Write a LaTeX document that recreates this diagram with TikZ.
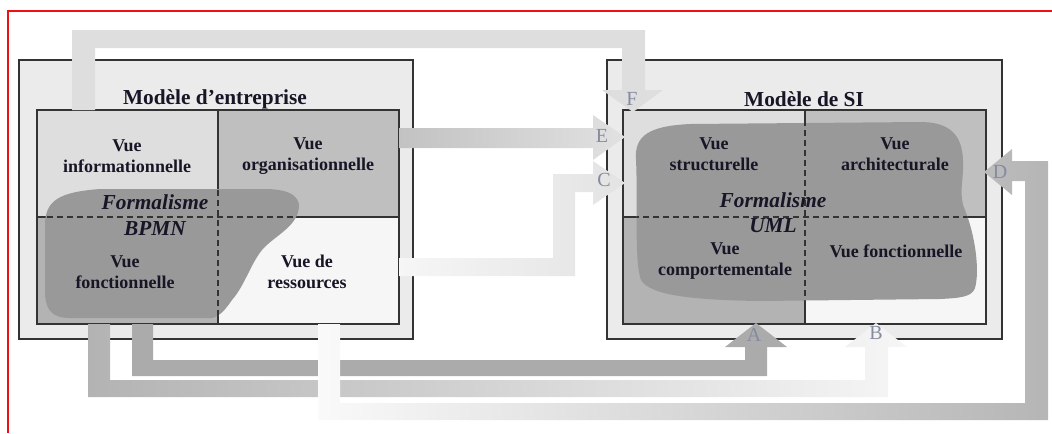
\documentclass[tikz,border=0pt]{standalone}
\usepackage{fontspec}
\setmainfont{Liberation Serif}
\usepackage{xcolor}
\definecolor{OuterGray}{HTML}{EBEBEB}
\definecolor{QuadLight}{HTML}{DEDEDE}
\definecolor{QuadMid}{HTML}{BFBFBF}
\definecolor{QuadLow}{HTML}{B3B3B3}
\definecolor{QuadPale}{HTML}{F6F6F6}
\definecolor{BlobGray}{HTML}{999999}
\definecolor{BorderGray}{HTML}{333333}
\definecolor{InkColor}{HTML}{161626}
\definecolor{LetterGray}{HTML}{858CA0}
\definecolor{FrameRed}{HTML}{F01010}
\newcommand{\vuefont}{\fontsize{13.5}{16}\selectfont\bfseries}
\newcommand{\titrefont}{\fontsize{16}{19}\selectfont\bfseries}
\newcommand{\blobBPMN}{(45,225) .. controls (45,200) and (60,192) .. (100,189)
  -- (265,189) .. controls (295,189) and (302,200) .. (298,212)
  .. controls (294,228) and (272,238) .. (262,250)
  .. controls (250,265) and (245,285) .. (232,300)
  .. controls (225,310) and (220,316) .. (212,318)
  -- (70,318) .. controls (50,318) and (45,308) .. (45,290) -- cycle}
\newcommand{\blobUML}{(636,160) .. controls (634,135) and (650,126) .. (690,124)
  -- (920,122) .. controls (950,122) and (962,135) .. (963,160)
  .. controls (964,180) and (958,195) .. (965,210)
  .. controls (975,235) and (980,270) .. (975,288)
  .. controls (972,297) and (960,298) .. (940,299)
  -- (760,301) .. controls (690,300) and (650,295) .. (641,280)
  .. controls (634,262) and (638,200) .. (636,160) -- cycle}
\tikzset{
  boxouter/.style={fill=OuterGray, draw=BorderGray, line width=1.5pt},
  boxinner/.style={draw=BorderGray, line width=1.1pt},
  cutline/.style={draw=BorderGray, line width=1.1pt, dash pattern=on 4.5pt off 3pt},
  vue/.style={font=\vuefont, text=InkColor, align=center},
  titre/.style={font=\titrefont, text=InkColor},
  formalisme/.style={font=\titrefont\itshape, text=InkColor, align=center},
  lettre/.style={font=\fontsize{15}{17}\selectfont, text=LetterGray}
}
\begin{document}
\begin{tikzpicture}[x=0.75pt, y=-0.75pt]
  \useasboundingbox (0,0) rectangle (1052,433);
  \draw[FrameRed, line width=1.5pt] (1052,11) -- (8,11) -- (8,433);

  % Modele d'entreprise
  \draw[boxouter] (19,60) rectangle (413,339);
  \fill[QuadLight] (37,110) rectangle (218,217);
  \fill[QuadMid] (218,110) rectangle (399,217);
  \fill[QuadLow] (37,217) rectangle (218,324);
  \fill[QuadPale] (218,217) rectangle (399,324);
  \draw[boxinner] (37,110) rectangle (399,324);
  \draw[boxinner] (37,217) -- (399,217) (218,110) -- (218,324);
  \fill[BlobGray] \blobBPMN;
  \begin{scope}
    \clip \blobBPMN;
    \draw[cutline] (37,217) -- (399,217) (218,110) -- (218,324);
  \end{scope}

  % Modele de SI
  \draw[boxouter] (607,60) rectangle (1002,339);
  \fill[QuadLight] (623,110) rectangle (805,217);
  \fill[QuadMid] (805,110) rectangle (986,217);
  \fill[QuadLow] (623,217) rectangle (805,324);
  \fill[QuadPale] (805,217) rectangle (986,324);
  \draw[boxinner] (623,110) rectangle (986,324);
  \draw[boxinner] (623,217) -- (986,217) (805,110) -- (805,324);
  \fill[BlobGray] \blobUML;
  \begin{scope}
    \clip \blobUML;
    \draw[cutline] (623,217) -- (986,217) (805,110) -- (805,324);
  \end{scope}

  % textes
  \node[titre] (entreprise) at (215,99) {Modèle d’entreprise};
  \node[titre] (si) at (804,99) {Modèle de SI};
  \node[vue] (info) at (127,156) {Vue\\informationnelle};
  \node[vue] (orga) at (308,156) {Vue\\organisationnelle};
  \node[vue] (fonc) at (125,272) {Vue\\fonctionnelle};
  \node[vue] (ress) at (307,272) {Vue de\\ressources};
  \node[vue] (struct) at (714,154) {Vue\\structurelle};
  \node[vue] (archi) at (895,154) {Vue\\architecturale};
  \node[vue] (comport) at (725,261) {Vue\\comportementale};
  \node[vue] (fonctsi) at (896,251) {Vue fonctionnelle};
  \node[formalisme] (bpmn) at (155,215) {Formalisme\\BPMN};
  \node[formalisme] (uml) at (773,213) {Formalisme\\UML};

  % fleches A et B (depuis la vue fonctionnelle)
  \fill[color={rgb,255:red,171;green,171;blue,171}]
    (132,324) -- (132,376) -- (767,376) -- (767,347) -- (787,347)
    -- (756,323) -- (725,347) -- (745,347) -- (745,360) -- (153,360)
    -- (153,324) -- cycle;
  \shade[left color=QuadLow, right color=QuadPale]
    (88,324) -- (88,397) -- (888,397) -- (888,347) -- (907,347)
    -- (876,323) -- (845,347) -- (865,347) -- (865,380) -- (110,380)
    -- (110,324) -- cycle;
  % fleche D (vue de ressources)
  \shade[left color=QuadPale!60!white, right color=QuadMid!95!black]
    (318,324) -- (318,420) -- (1048,420) -- (1048,161) -- (1012,161)
    -- (1012,149) -- (984,172) -- (1012,195) -- (1012,181) -- (1025,181)
    -- (1025,403) -- (340,403) -- (340,324) -- cycle;
  % fleche E (vue organisationnelle)
  \shade[left color=QuadMid!95!white, right color=QuadLight!90!white]
    (399,128) -- (593,128) -- (593,115) -- (625,137) -- (593,160)
    -- (593,148) -- (399,148) -- cycle;
  % fleche C (vue de ressources)
  \shade[left color=QuadPale, right color=QuadLight!85!white]
    (399,258) -- (553,258) -- (553,174) -- (593,174) -- (593,161)
    -- (625,183) -- (593,205) -- (593,192) -- (575,192) -- (575,276)
    -- (399,276) -- cycle;
  % fleche F (vue informationnelle)
  \fill[QuadLight]
    (72,110) -- (72,30) -- (645,30) -- (645,90) -- (663,90) -- (633,112)
    -- (602,90) -- (622,90) -- (622,48) -- (95,48) -- (95,110) -- cycle;

  \foreach \l/\x/\y in {A/754/335, B/876/333, C/604/180, D/1000/172,
                        E/602/136, F/632/99}
    \node[lettre] (lbl\l) at (\x,\y) {\l};
\end{tikzpicture}
\end{document}
